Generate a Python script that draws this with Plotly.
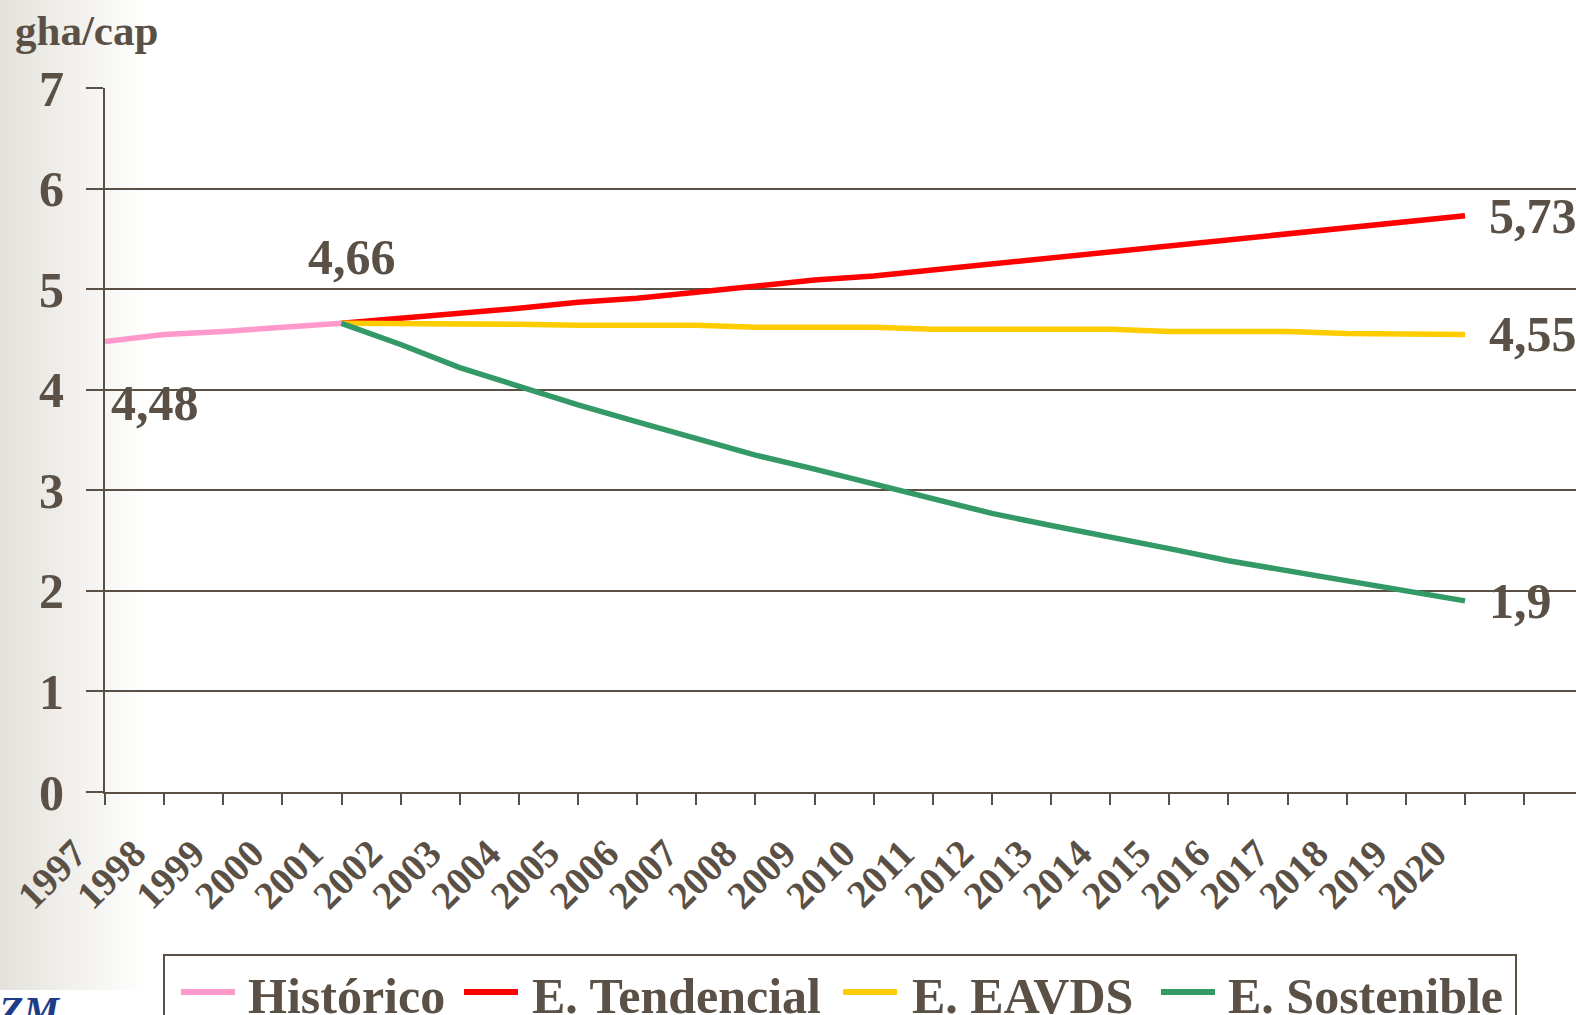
import plotly.graph_objects as go

years_hist = [1997, 1998, 1999, 2000, 2001]
hist = [4.48, 4.55, 4.58, 4.62, 4.66]

years_scen = list(range(2001, 2021))
tendencial = [4.66, 4.71, 4.75, 4.81, 4.87, 4.91, 4.97, 5.03, 5.09, 5.13,
              5.19, 5.25, 5.31, 5.37, 5.43, 5.49, 5.55, 5.61, 5.67, 5.73]
eavds = [4.66, 4.66, 4.66, 4.65, 4.64, 4.64, 4.64, 4.62, 4.62, 4.62,
         4.60, 4.60, 4.60, 4.60, 4.58, 4.58, 4.58, 4.56, 4.56, 4.55]
sostenible = [4.66, 4.45, 4.22, 4.03, 3.85, 3.68, 3.52, 3.35, 3.21, 3.06,
              2.91, 2.77, 2.65, 2.54, 2.42, 2.30, 2.20, 2.11, 2.00, 1.90]

tick_years = list(range(1997, 2022))
tick_text = [str(y) for y in range(1997, 2021)] + [""]

names = ["Histórico", "E. Tendencial", "E. EAVDS", "E. Sostenible"]
colors = ["#ff99cc", "#ff0000", "#ffcc00", "#339966"]

TXT = "#5a5046"
FONT = "Liberation Serif, Times New Roman, serif"

W, H = 1576, 1015
L, R, T, B = 105, 0, 88, 223
PW, PH = W - L - R, H - T - B


def px(xp):
    return (xp - L) / PW


def py(yp):
    return (H - B - yp) / PH


fig = go.Figure()
fig.add_trace(go.Scatter(x=years_hist, y=hist, mode="lines", name=names[0],
                         line=dict(color=colors[0], width=5.5), showlegend=False))
for nm, col, vals in zip(names[1:], colors[1:], [tendencial, eavds, sostenible]):
    fig.add_trace(go.Scatter(x=years_scen, y=vals, mode="lines", name=nm,
                             line=dict(color=col, width=5.5), showlegend=False))

# left gradient background
shapes = []
n = 30
for i in range(n):
    t = i / (n - 1)
    r = int(229 + (255 - 229) * t)
    g = int(226 + (255 - 226) * t)
    b = int(220 + (255 - 220) * t)
    shapes.append(dict(type="rect", xref="paper", yref="paper",
                       x0=px(i * 5), x1=px(i * 5 + 5.5), y0=py(990), y1=py(0),
                       fillcolor=f"rgb({r},{g},{b})", line=dict(width=0),
                       layer="below"))

annotations = [
    dict(text="gha/cap", xref="paper", yref="paper", x=px(13), y=py(5),
         xanchor="left", yanchor="top", showarrow=False,
         font=dict(family=FONT, size=43, color=TXT, weight="bold")),
    dict(text=f"{hist[0]:.2f}".replace(".", ","), x=years_hist[0], y=hist[0],
         xanchor="center", yanchor="middle", xshift=50, yshift=-62, showarrow=False,
         font=dict(family=FONT, size=50, color=TXT, weight="bold")),
    dict(text=f"{hist[-1]:.2f}".replace(".", ","), x=years_hist[-1], y=hist[-1],
         xanchor="center", yanchor="middle", xshift=10, yshift=66, showarrow=False,
         font=dict(family=FONT, size=50, color=TXT, weight="bold")),
    dict(text="ZM", xref="paper", yref="paper", x=px(-4), y=py(986),
         xanchor="left", yanchor="top", showarrow=False,
         font=dict(family=FONT, size=40, color="#1f3c88", weight="bold", style="italic")),
]
for vals in [tendencial, eavds, sostenible]:
    v = vals[-1]
    s = (f"{v:.2f}".rstrip("0").rstrip(".")).replace(".", ",")
    annotations.append(dict(text=s, x=years_scen[-1], y=v, xanchor="left",
                            yanchor="middle", xshift=22, showarrow=False,
                            font=dict(family=FONT, size=50, color=TXT, weight="bold")))

# legend box (drawn by hand so spacing matches)
shapes.append(dict(type="rect", xref="paper", yref="paper",
                   x0=px(164), x1=px(1516), y0=py(1040), y1=py(955),
                   fillcolor="white", line=dict(color=TXT, width=2), layer="above"))
leg_sample_x = [179, 462, 841, 1159]
leg_text_x = [247, 531, 911, 1227]
leg_y = 992
for nm, col, sx, tx in zip(names, colors, leg_sample_x, leg_text_x):
    shapes.append(dict(type="line", xref="paper", yref="paper",
                       x0=px(sx + 2), x1=px(sx + 56), y0=py(leg_y), y1=py(leg_y),
                       line=dict(color=col, width=6), layer="above"))
    annotations.append(dict(text=nm, xref="paper", yref="paper", x=px(tx - 1),
                            y=py(leg_y + 4), xanchor="left", yanchor="middle",
                            showarrow=False,
                            font=dict(family=FONT, size=50, color=TXT, weight="bold")))

fig.update_layout(
    width=W, height=H,
    margin=dict(l=L, r=R, t=T, b=B, autoexpand=False),
    paper_bgcolor="white", plot_bgcolor="rgba(0,0,0,0)",
    shapes=shapes, annotations=annotations,
    showlegend=False,
    xaxis=dict(type="linear", range=[1997, 1997 + PW / ((1465 - 105) / 23)],
               tickvals=tick_years, ticktext=tick_text, tickangle=-45,
               ticks="outside", ticklen=11, tickwidth=2, tickcolor=TXT,
               showline=True, linecolor=TXT, linewidth=2, showgrid=False,
               zeroline=False, ticklabelshift=-30, ticklabelstandoff=10,
               tickfont=dict(family=FONT, size=39, color=TXT, weight="bold")),
    yaxis=dict(range=[0, 7], dtick=1, tick0=0, ticks="outside", ticklen=17,
               tickwidth=2, tickcolor=TXT, showline=True, linecolor=TXT, linewidth=2,
               showgrid=True, gridcolor=TXT, gridwidth=2, zeroline=False,
               ticklabelstandoff=12,
               tickfont=dict(family=FONT, size=50, color=TXT, weight="bold")),
)

fig.write_html("out.html", config={"displayModeBar": False},
               post_script="document.body.style.margin='0';document.body.style.overflow='hidden';")
